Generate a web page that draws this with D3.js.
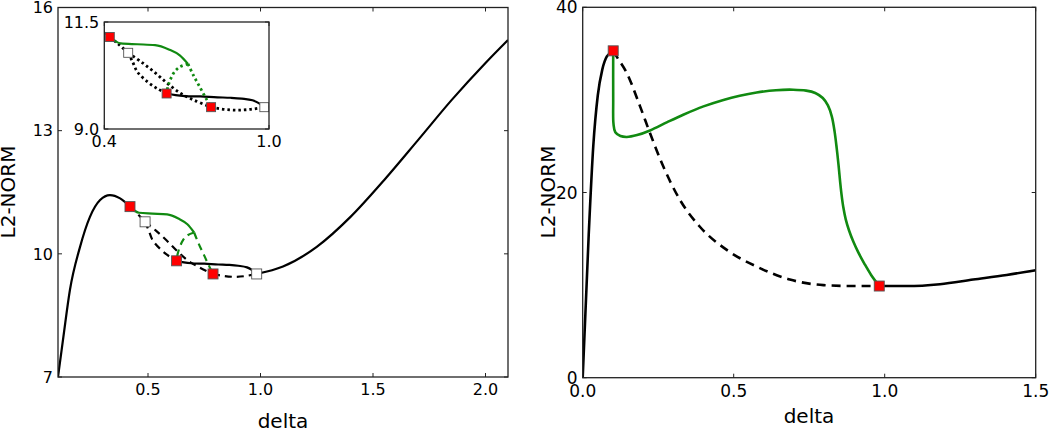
<!DOCTYPE html>
<html>
<head>
<meta charset="utf-8">
<script src="https://cdn.jsdelivr.net/npm/d3@7"></script>
<style>
  body { margin: 0; background: #fff; }
  svg text { font-family: "DejaVu Sans", sans-serif; fill: #000; }
  .spine { fill: none; stroke: #222; stroke-width: 1.3; }
  .tick-mark { stroke: #222; stroke-width: 1; }
</style>
</head>
<body>
<svg id="chart" width="1050" height="431"></svg>
<script>
// ---- left panel data (main plot and inset share it) ----
const leftXTicks = [0.5, 1.0, 1.5, 2.0];
const leftYTicks = [7, 10, 13, 16];
const insetXTicks = [0.4, 1.0];
const insetYTicks = [9.0, 11.5];

// stable branch, rising part up to the first red point
const stableRiseDelta = [0.1, 0.124, 0.153, 0.198, 0.242, 0.287, 0.331, 0.376, 0.42];
const stableRiseNorm  = [7.0, 7.98, 9.12, 10.17, 10.9, 11.31, 11.43, 11.35, 11.15];
// stable branch between red point 2 and the right fold
const stableMidDelta = [0.627, 0.66, 0.694, 0.75, 0.812, 0.86, 0.901, 0.94, 0.961, 0.983];
const stableMidNorm  = [9.83, 9.79, 9.77, 9.76, 9.74, 9.73, 9.71, 9.67, 9.61, 9.51];
// stable branch after the right fold
const stableTailDelta = [0.983, 1.1, 1.25, 1.4, 1.55, 1.7, 1.85, 2.0, 2.1];
const stableTailNorm  = [9.51, 9.69, 10.17, 10.9, 11.8, 12.77, 13.75, 14.65, 15.21];

// unstable (dashed) black pieces
const unstFoldDelta = [0.42, 0.45, 0.487];
const unstFoldNorm  = [11.15, 10.99, 10.78];
const unstLowDelta = [0.487, 0.503, 0.521, 0.558, 0.594, 0.627];
const unstLowNorm  = [10.78, 10.57, 10.33, 10.10, 9.94, 9.83];
const unstUpDelta = [0.487, 0.534, 0.582, 0.631, 0.679, 0.728, 0.789];
const unstUpNorm  = [10.78, 10.57, 10.33, 10.06, 9.83, 9.67, 9.51];
const unstEndDelta = [0.789, 0.837, 0.886, 0.934, 0.983];
const unstEndNorm  = [9.51, 9.46, 9.44, 9.46, 9.51];

// green (periodic) branches
const greenSolidDelta = [0.42, 0.46, 0.52, 0.585, 0.635, 0.675, 0.705];
const greenSolidNorm  = [11.15, 11.0, 10.98, 10.96, 10.86, 10.72, 10.52];
const greenToR3Delta = [0.705, 0.725, 0.748, 0.77, 0.789];
const greenToR3Norm  = [10.52, 10.25, 9.98, 9.72, 9.51];
const greenToR2Delta = [0.705, 0.675, 0.655, 0.641, 0.632, 0.627];
const greenToR2Norm  = [10.52, 10.45, 10.33, 10.16, 10.0, 9.83];

const leftRedDelta = [0.42, 0.627, 0.789];
const leftRedNorm  = [11.15, 9.83, 9.51];
const leftWhiteDelta = [0.487, 0.983];
const leftWhiteNorm  = [10.78, 9.51];

// ---- right panel data ----
const rightXTicks = [0.0, 0.5, 1.0, 1.5];
const rightYTicks = [0, 20, 40];

const rRiseDelta = [0, 0.02, 0.035, 0.05, 0.065, 0.08, 0.101];
const rRiseNorm  = [0, 15.5, 25, 30.5, 33.3, 34.7, 35.3];
const rDashDelta = [0.101, 0.112, 0.146, 0.19, 0.223, 0.267, 0.322, 0.388, 0.477, 0.576, 0.686, 0.797, 0.9, 0.982];
const rDashNorm  = [35.3, 34.7, 32.9, 29.3, 26.4, 22.8, 19.2, 16.3, 13.8, 12.0, 10.6, 10.0, 9.9, 9.9];
const rTailDelta = [0.982, 1.073, 1.183, 1.293, 1.404, 1.5];
const rTailNorm  = [9.9, 9.9, 10.1, 10.6, 11.1, 11.6];
const rGreenDelta = [0.101, 0.101, 0.102, 0.108, 0.125, 0.146, 0.18, 0.223, 0.28, 0.333, 0.4, 0.466,
                     0.52, 0.576, 0.64, 0.697, 0.74, 0.77, 0.795, 0.812, 0.825, 0.834, 0.841, 0.847,
                     0.852, 0.857, 0.863, 0.871, 0.882, 0.896, 0.913, 0.933, 0.955, 0.982];
const rGreenNorm  = [35.3, 30, 27.4, 26.5, 26.1, 26.0, 26.2, 26.7, 27.6, 28.4, 29.3, 30.0,
                     30.45, 30.8, 31.05, 31.1, 31.0, 30.75, 30.2, 29.4, 28.2, 26.6, 24.8, 23.0,
                     21.3, 19.8, 18.4, 17.1, 15.9, 14.7, 13.5, 12.3, 11.1, 9.9];
const rRedDelta = [0.101, 0.982];
const rRedNorm  = [35.3, 9.9];

const GREEN = '#118a11';
const svg = d3.select('#chart');

function pts(xs, ys) {
    return xs.map((d, i) => [d, ys[i]]);
}

function drawFrame(g, x, y, xTicks, yTicks, fmtX, fmtY, fontSize) {
    const [x0, x1] = x.range();
    const [y0, y1] = y.range();
    // ticks inward on all four sides
    xTicks.forEach(t => {
        g.append('line').attr('class', 'tick-mark')
            .attr('x1', x(t)).attr('x2', x(t)).attr('y1', y0).attr('y2', y0 - 4);
        g.append('line').attr('class', 'tick-mark')
            .attr('x1', x(t)).attr('x2', x(t)).attr('y1', y1).attr('y2', y1 + 4);
        g.append('text').attr('x', x(t)).attr('y', y0 + 6)
            .attr('dy', '0.76em').attr('text-anchor', 'middle')
            .style('font-size', fontSize + 'px').text(fmtX(t));
    });
    yTicks.forEach(t => {
        g.append('line').attr('class', 'tick-mark')
            .attr('x1', x0).attr('x2', x0 + 4).attr('y1', y(t)).attr('y2', y(t));
        g.append('line').attr('class', 'tick-mark')
            .attr('x1', x1).attr('x2', x1 - 4).attr('y1', y(t)).attr('y2', y(t));
        g.append('text').attr('x', x0 - 5).attr('y', y(t))
            .attr('dy', '0.36em').attr('text-anchor', 'end')
            .style('font-size', fontSize + 'px').text(fmtY(t));
    });
}

function drawLine(g, x, y, xs, ys, opts) {
    const line = d3.line()
        .x(d => x(d[0]))
        .y(d => y(d[1]))
        .curve(opts.curve || d3.curveCatmullRom.alpha(0.5));
    g.append('path')
        .datum(pts(xs, ys))
        .attr('d', line)
        .attr('fill', 'none')
        .attr('stroke', opts.color)
        .attr('stroke-width', opts.width)
        .attr('stroke-dasharray', opts.dash || null)
        .attr('stroke-linecap', opts.cap || 'butt');
}

function drawSquares(g, x, y, xs, ys, fill, size) {
    g.selectAll(null)
        .data(pts(xs, ys))
        .enter()
        .append('rect')
        .attr('x', d => x(d[0]) - size / 2)
        .attr('y', d => y(d[1]) - size / 2)
        .attr('width', size)
        .attr('height', size)
        .attr('fill', fill)
        .attr('stroke', '#555')
        .attr('stroke-width', 0.9);
}

function drawBranches(g, x, y, dash, dashWidth, markerSize) {
    const solidW = 2.2;
    const mono = d3.curveMonotoneX;
    drawLine(g, x, y, stableRiseDelta, stableRiseNorm, {color: '#000', width: solidW, curve: mono});
    drawLine(g, x, y, stableMidDelta, stableMidNorm, {color: '#000', width: solidW, curve: mono});
    drawLine(g, x, y, stableTailDelta, stableTailNorm, {color: '#000', width: solidW, curve: mono});
    drawLine(g, x, y, unstFoldDelta, unstFoldNorm, {color: '#000', width: dashWidth, dash: dash});
    drawLine(g, x, y, unstLowDelta, unstLowNorm, {color: '#000', width: dashWidth, dash: dash});
    drawLine(g, x, y, unstUpDelta, unstUpNorm, {color: '#000', width: dashWidth, dash: dash});
    drawLine(g, x, y, unstEndDelta, unstEndNorm, {color: '#000', width: dashWidth, dash: dash, curve: mono});
    drawLine(g, x, y, greenSolidDelta, greenSolidNorm, {color: GREEN, width: solidW, curve: mono});
    drawLine(g, x, y, greenToR3Delta, greenToR3Norm, {color: GREEN, width: dashWidth, dash: dash});
    drawLine(g, x, y, greenToR2Delta, greenToR2Norm, {color: GREEN, width: dashWidth, dash: dash});
    drawSquares(g, x, y, leftWhiteDelta, leftWhiteNorm, '#fff', markerSize);
    drawSquares(g, x, y, leftRedDelta, leftRedNorm, '#f00', markerSize);
}

// ---------- left panel ----------
const xL = d3.scaleLinear().domain([0.1, 2.1]).range([58, 508]);
const yL = d3.scaleLinear().domain([7, 16]).range([377, 7.5]);
const left = svg.append('g');

svg.append('clipPath').attr('id', 'clipL')
    .append('rect').attr('x', 58).attr('y', 7.5).attr('width', 450).attr('height', 369.5);

const leftPlot = left.append('g').attr('clip-path', 'url(#clipL)');
drawBranches(leftPlot, xL, yL, '7,5', 2.2, 10);

left.append('rect').attr('class', 'spine')
    .attr('x', 58).attr('y', 7.5).attr('width', 450).attr('height', 369.5);
drawFrame(left, xL, yL, leftXTicks, leftYTicks, d3.format('.1f'), d3.format('d'), 16);

left.append('text').attr('x', 283).attr('y', 428)
    .attr('text-anchor', 'middle').style('font-size', '20px').text('delta');
left.append('text').attr('transform', 'translate(15,192) rotate(-90)')
    .attr('text-anchor', 'middle').style('font-size', '20px').text('L2-NORM');

// ---------- inset ----------
const xI = d3.scaleLinear().domain([0.4, 1.0]).range([104.3, 269]);
const yI = d3.scaleLinear().domain([9.0, 11.5]).range([129, 22]);
const inset = svg.append('g');
inset.append('rect').attr('x', 104.3).attr('y', 22).attr('width', 164.7).attr('height', 107)
    .attr('fill', '#fff');
svg.append('clipPath').attr('id', 'clipI')
    .append('rect').attr('x', 104.3).attr('y', 22).attr('width', 164.7).attr('height', 107);
const insetPlot = inset.append('g').attr('clip-path', 'url(#clipI)');
drawBranches(insetPlot, xI, yI, '2.5,3', 2.8, 9);
inset.append('rect').attr('class', 'spine')
    .attr('x', 104.3).attr('y', 22).attr('width', 164.7).attr('height', 107);
drawFrame(inset, xI, yI, insetXTicks, insetYTicks, d3.format('.1f'), d3.format('.1f'), 16);

// ---------- right panel ----------
const xR = d3.scaleLinear().domain([0, 1.5]).range([582.7, 1035.7]);
const yR = d3.scaleLinear().domain([0, 40]).range([377.7, 7.3]);
const right = svg.append('g');
svg.append('clipPath').attr('id', 'clipR')
    .append('rect').attr('x', 582.7).attr('y', 7.3).attr('width', 453).attr('height', 370.4);
const rightPlot = right.append('g').attr('clip-path', 'url(#clipR)');

drawLine(rightPlot, xR, yR, rDashDelta, rDashNorm, {color: '#000', width: 2.6, dash: '9,6', curve: d3.curveMonotoneX});
drawLine(rightPlot, xR, yR, rRiseDelta, rRiseNorm, {color: '#000', width: 2.6, curve: d3.curveMonotoneX});
drawLine(rightPlot, xR, yR, rTailDelta, rTailNorm, {color: '#000', width: 2.6, curve: d3.curveMonotoneX});
drawLine(rightPlot, xR, yR, rGreenDelta, rGreenNorm, {color: GREEN, width: 2.6});
drawSquares(rightPlot, xR, yR, rRedDelta, rRedNorm, '#f00', 10);

right.append('rect').attr('class', 'spine')
    .attr('x', 582.7).attr('y', 7.3).attr('width', 453).attr('height', 370.4);
drawFrame(right, xR, yR, rightXTicks, rightYTicks, d3.format('.1f'), d3.format('d'), 17);

right.append('text').attr('x', 809).attr('y', 423)
    .attr('text-anchor', 'middle').style('font-size', '20px').text('delta');
right.append('text').attr('transform', 'translate(555,192) rotate(-90)')
    .attr('text-anchor', 'middle').style('font-size', '20px').text('L2-NORM');
</script>
</body>
</html>
